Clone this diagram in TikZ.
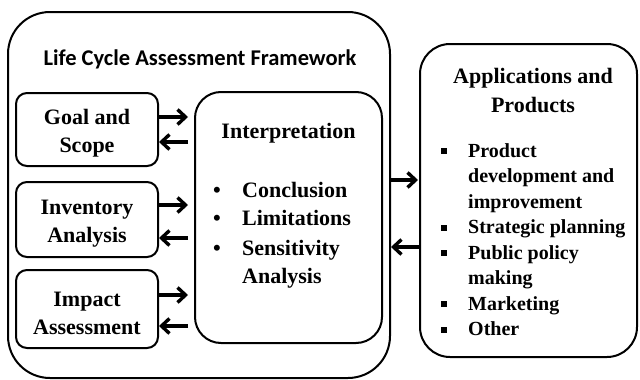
\documentclass[tikz,border=0pt]{standalone}
\usepackage{fontspec}
\setmainfont{Liberation Serif}
\newfontfamily\titlefont{Carlito}
\usetikzlibrary{arrows.meta}
\begin{document}
\begin{tikzpicture}[x=1pt,y=-1pt,
  box/.style={draw,line width=2pt,inner sep=0pt,outer sep=0pt},
  bigtxt/.style={font=\fontsize{22}{28}\selectfont\bfseries},
  smalltxt/.style={font=\fontsize{20}{25}\selectfont\bfseries},
  boxtxt/.style={label={[bigtxt,align=center,yshift=-4pt]center:#1}},
  arr/.style={line width=3.4pt,-{Straight Barb[length=8pt,width=15pt]}},
  lbl/.style={anchor=base west,inner sep=0pt},
  bul/.style={anchor=base,inner sep=0pt},
  sq/.style={anchor=base,inner sep=0pt}]
\useasboundingbox (0,0) rectangle (640,380);
% boxes
\node[box,rounded corners=42pt,minimum width=382,minimum height=366] (lca) at (199,195) {};
\node[box,rounded corners=30pt,minimum width=217,minimum height=313] (app) at (528.5,200.5) {};
\node[box,rounded corners=26pt,minimum width=187,minimum height=251] (interp) at (288.5,217.5) {};
\node[box,rounded corners=11pt,minimum width=142,minimum height=73,boxtxt={{Goal and\\Scope}}] (goal) at (87,129.5) {};
\node[box,rounded corners=11pt,minimum width=142,minimum height=75,boxtxt={{Inventory\\Analysis}}] (inv) at (87,219.5) {};
\node[box,rounded corners=11pt,minimum width=142,minimum height=78,boxtxt={{Impact\\Assessment}}] (imp) at (87,309) {};
% titles
\node[anchor=base,inner sep=0pt,font=\titlefont\fontsize{22.5}{27}\selectfont\bfseries] (title) at (200,65) {Life Cycle Assessment Framework};
\node[anchor=base,inner sep=0pt,bigtxt] (ititle) at (288.5,138) {Interpretation};
\node[anchor=base,inner sep=0pt,bigtxt] (atitle1) at (533,83) {Applications and};
\node[anchor=base,inner sep=0pt,bigtxt] (atitle2) at (533,112) {Products};
% interpretation bullets
\node[bul,bigtxt] (b1) at (217,197) {•};
\node[lbl,bigtxt] (i1) at (242,197) {Conclusion};
\node[bul,bigtxt] (b2) at (217,225) {•};
\node[lbl,bigtxt] (i2) at (242,225) {Limitations};
\node[bul,bigtxt] (b3) at (217,255) {•};
\node[lbl,bigtxt] (i3) at (242,255) {Sensitivity};
\node[lbl,bigtxt] (i3b) at (242,283) {Analysis};
% application bullets
\node[sq] (s1) at (444,157) {\rule[3pt]{6pt}{6pt}};
\node[lbl,smalltxt] (a1) at (468,157) {Product};
\node[lbl,smalltxt] (a1b) at (468,182.5) {development and};
\node[lbl,smalltxt] (a1c) at (468,208) {improvement};
\node[sq] (s2) at (444,233.5) {\rule[3pt]{6pt}{6pt}};
\node[lbl,smalltxt] (a2) at (468,233.5) {Strategic planning};
\node[sq] (s3) at (444,259) {\rule[3pt]{6pt}{6pt}};
\node[lbl,smalltxt] (a3) at (468,259) {Public policy};
\node[lbl,smalltxt] (a3b) at (468,284.5) {making};
\node[sq] (s4) at (444,310) {\rule[3pt]{6pt}{6pt}};
\node[lbl,smalltxt] (a4) at (468,310) {Marketing};
\node[sq] (s5) at (444,335.5) {\rule[3pt]{6pt}{6pt}};
\node[lbl,smalltxt] (a5) at (468,335.5) {Other};
% arrows
\draw[arr,shorten >=7pt] (goal.east |- 0,117) -- (interp.west |- 0,117);
\draw[arr,shorten <=7pt,shorten >=1pt] (interp.west |- 0,142) -- (goal.east |- 0,142);
\draw[arr,shorten >=7pt] (inv.east |- 0,205) -- (interp.west |- 0,205);
\draw[arr,shorten <=7pt,shorten >=1pt] (interp.west |- 0,238) -- (inv.east |- 0,238);
\draw[arr,shorten >=7pt] (imp.east |- 0,295) -- (interp.west |- 0,295);
\draw[arr,shorten <=7pt,shorten >=1pt] (interp.west |- 0,326) -- (imp.east |- 0,326);
\draw[arr,shorten >=2pt] (lca.east |- 0,180) -- (app.west |- 0,180);
\draw[arr,shorten >=1pt] (app.west |- 0,247) -- (lca.east |- 0,247);
\end{tikzpicture}
\end{document}
